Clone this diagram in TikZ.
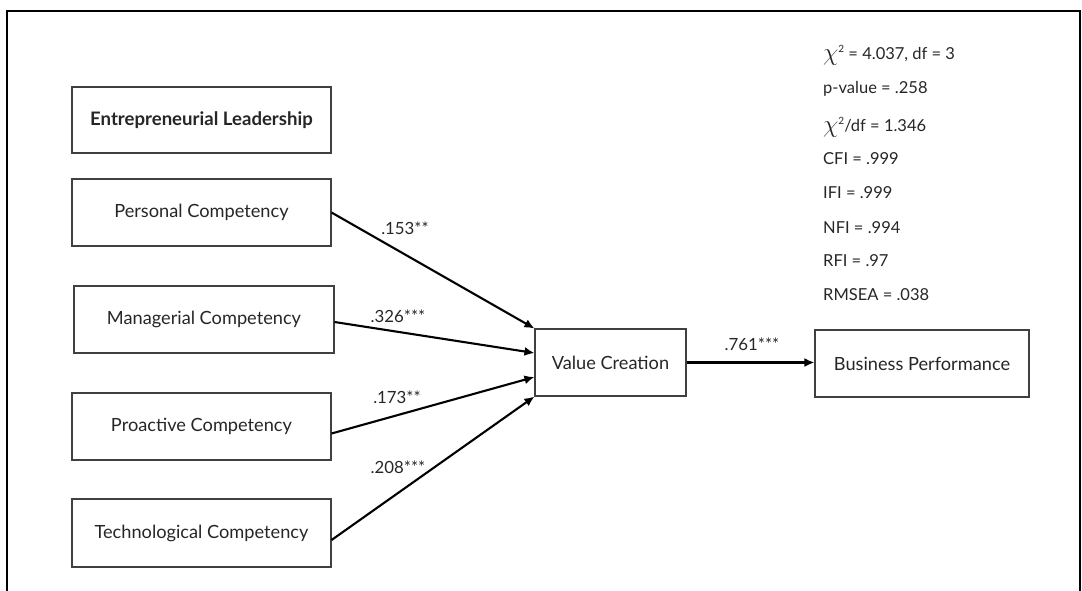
\documentclass[tikz,border=0pt]{standalone}
\usepackage{fontspec}
\setmainfont{Lato}
\usetikzlibrary{arrows.meta,calc}
\newcommand{\bigchi}{\raisebox{-1pt}{\fontsize{28}{28}\selectfont$\chi$}\raisebox{7pt}{\fontsize{10}{10}\selectfont 2}}
\begin{document}
\begin{tikzpicture}[x=1pt,y=-1pt,
  box/.style={draw=black!75,line width=1.1pt,inner sep=0pt,text=black!85,font=\fontsize{18.2}{21}\selectfont},
  arr/.style={line width=2.1pt,-{Latex[length=10pt,width=9pt]}},
  coef/.style={text=black!85,font=\fontsize{16.8}{19}\selectfont,inner sep=0pt},
  stat/.style={text=black!85,font=\fontsize{16.5}{19}\selectfont,inner sep=0pt,anchor=base west}]
\useasboundingbox (0,0) rectangle (1082,590);
\draw[line width=2pt] (7,592) -- (7,10.5) -- (1080,10.5) -- (1080,592);
\node[box,minimum width=259pt,minimum height=66pt,font=\fontsize{18.6}{21}\selectfont\bfseries] (el) at (201.5,120) {Entrepreneurial Leadership};
\node[box,minimum width=259pt,minimum height=67pt] (pc) at (201.5,212.5) {Personal Competency};
\node[box,minimum width=260pt,minimum height=67pt] (mc) at (204,319.5) {Managerial Competency};
\node[box,minimum width=259pt,minimum height=67pt] (prc) at (201.5,426.5) {Proactive Competency};
\node[box,minimum width=259pt,minimum height=68pt] (tc) at (201.5,533) {Technological Competency};
\node[box,minimum width=151pt,minimum height=67pt] (vc) at (610.5,362.5) {Value Creation};
\node[box,minimum width=214pt,minimum height=67pt] (bp) at (922,363.5) {Business Performance};
\draw[arr] (pc.east) -- (vc.north west);
\draw[arr] ($(mc.east)+(0,2.5)$) -- ($(vc.west)+(0,-9.5)$);
\draw[arr] ($(prc.east)+(0,7)$) -- ($(vc.west)+(0,14.5)$);
\draw[arr] ($(tc.east)+(0,7)$) -- (vc.south west);
\draw[arr] (vc.east) -- (vc.east -| bp.west);
\node[coef] (l1) at (405,228) {.153**};
\node[coef] (l2) at (398,316) {.326***};
\node[coef] (l3) at (397,397) {.173**};
\node[coef] (l4) at (398,467) {.208***};
\node[coef] (l5) at (752,344) {.761***};
\node[stat] (s1) at (823,59) {\bigchi{} = 4.037, df = 3};
\node[stat] (s2) at (823,93) {p-value = .258};
\node[stat] (s3) at (823,131) {\bigchi/df = 1.346};
\node[stat] (s4) at (823,164) {CFI = .999};
\node[stat] (s5) at (823,198) {IFI = .999};
\node[stat] (s6) at (823,233) {NFI = .994};
\node[stat] (s7) at (823,266) {RFI = .97};
\node[stat] (s8) at (823,300) {RMSEA = .038};
\end{tikzpicture}
\end{document}
